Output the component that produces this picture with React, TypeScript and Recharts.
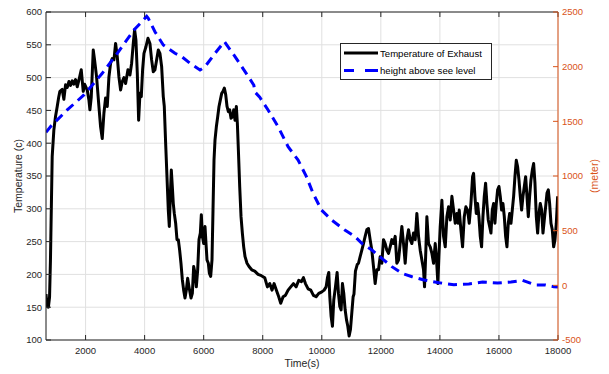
import React from 'react';
import { LineChart, Line, XAxis, YAxis, CartesianGrid, Legend, Label } from 'recharts';

// Exhaust temperature trace: time (s) and temperature (c)
const tempTime = [
  660, 700, 740, 780, 810, 840, 870, 926, 980, 1040, 1090, 1130, 1209, 1265, 1322, 1380, 1435, 1490, 1548, 1600,
  1661, 1718, 1774, 1853, 1921, 1966, 2057, 2113, 2147, 2192, 2230, 2260, 2305, 2373, 2452, 2509, 2565, 2622, 2678, 2735,
  2791, 2848, 2904, 2961, 3017, 3074, 3130, 3187, 3243, 3300, 3356, 3435, 3503, 3560, 3616, 3661, 3706, 3752, 3797, 3842,
  3887, 3932, 3978, 4045, 4113, 4180, 4237, 4293, 4350, 4406, 4463, 4519, 4576, 4632, 4666, 4712, 4757, 4802, 4836, 4870,
  4904, 4938, 4971, 5005, 5051, 5096, 5141, 5186, 5231, 5277, 5322, 5367, 5412, 5457, 5503, 5571, 5616, 5661, 5706, 5751,
  5797, 5842, 5887, 5921, 5955, 6000, 6045, 6079, 6113, 6158, 6192, 6237, 6282, 6316, 6350, 6384, 6429, 6474, 6519, 6565,
  6610, 6655, 6700, 6746, 6791, 6836, 6881, 6926, 6972, 7017, 7062, 7107, 7141, 7175, 7220, 7265, 7310, 7355, 7401, 7468,
  7536, 7627, 7729, 7842, 7955, 8068, 8158, 8237, 8316, 8384, 8463, 8542, 8610, 8689, 8768, 8859, 8949, 9040, 9130, 9220,
  9311, 9379, 9446, 9537, 9627, 9717, 9808, 9898, 9989, 10079, 10147, 10192, 10237, 10271, 10316, 10361, 10406, 10463, 10519, 10565,
  10610, 10655, 10700, 10745, 10791, 10836, 10881, 10926, 10971, 11016, 11062, 11090, 11140, 11200, 11243, 11299, 11356, 11412, 11469, 11525,
  11582, 11638, 11695, 11751, 11808, 11864, 11921, 11977, 12034, 12090, 12147, 12203, 12260, 12316, 12373, 12429, 12486, 12542, 12599, 12655,
  12712, 12768, 12825, 12881, 12938, 12994, 13051, 13107, 13164, 13220, 13277, 13333, 13390, 13446, 13480, 13525, 13559, 13616, 13672, 13729,
  13785, 13842, 13887, 13932, 13966, 14011, 14068, 14124, 14181, 14237, 14294, 14350, 14407, 14463, 14520, 14576, 14620, 14655, 14712, 14768,
  14825, 14881, 14938, 14994, 15051, 15107, 15141, 15186, 15232, 15277, 15322, 15367, 15412, 15458, 15503, 15548, 15593, 15638, 15684, 15729,
  15774, 15819, 15864, 15910, 15955, 16000, 16045, 16090, 16136, 16181, 16226, 16271, 16316, 16362, 16407, 16452, 16497, 16542, 16587, 16633,
  16678, 16723, 16768, 16813, 16859, 16904, 16949, 16994, 17039, 17084, 17130, 17175, 17220, 17265, 17310, 17355, 17401, 17446, 17491, 17536,
  17581, 17627, 17672, 17717, 17762, 17807, 17852, 17898, 17943, 17988,
];
const tempValue = [
  170, 152, 150, 165, 220, 300, 380, 420, 440, 456, 470, 479, 482, 467, 489, 485, 494, 488, 495, 490,
  497, 486, 496, 512, 479, 490, 481, 466, 451, 470, 510, 542, 527, 501, 456, 425, 407, 446, 469, 456,
  501, 522, 529, 527, 552, 532, 501, 481, 494, 500, 491, 512, 504, 522, 552, 573, 557, 507, 435, 476,
  471, 512, 537, 547, 560, 552, 527, 509, 512, 527, 542, 537, 517, 471, 456, 400, 349, 298, 273, 319,
  359, 334, 308, 293, 278, 253, 253, 237, 217, 192, 176, 164, 176, 194, 181, 164, 171, 212, 202, 181,
  207, 253, 263, 291, 258, 247, 273, 247, 222, 217, 202, 197, 222, 298, 374, 405, 425, 440, 456, 466,
  476, 479, 484, 474, 456, 448, 451, 438, 440, 451, 435, 456, 430, 390, 334, 288, 263, 242, 227, 217,
  212, 207, 205, 200, 198, 195, 181, 186, 176, 186, 176, 166, 156, 166, 168, 176, 181, 186, 181, 191,
  189, 195, 186, 178, 176, 168, 166, 171, 173, 176, 181, 195, 203, 166, 136, 121, 161, 181, 203, 171,
  151, 146, 186, 171, 146, 131, 121, 106, 116, 141, 166, 170, 205, 215, 217, 227, 237, 247, 258, 268,
  270, 253, 237, 212, 186, 207, 207, 227, 217, 253, 247, 237, 232, 242, 253, 247, 258, 217, 222, 247,
  273, 247, 217, 253, 268, 253, 247, 263, 253, 293, 258, 237, 222, 207, 181, 237, 288, 247, 242, 232,
  217, 247, 222, 186, 227, 273, 313, 258, 242, 288, 303, 283, 319, 298, 278, 293, 278, 298, 268, 242,
  288, 303, 298, 278, 308, 349, 354, 319, 293, 308, 288, 258, 242, 288, 319, 339, 308, 283, 273, 263,
  298, 308, 278, 308, 329, 334, 319, 298, 308, 288, 258, 242, 278, 293, 278, 298, 319, 349, 374, 364,
  344, 319, 298, 319, 334, 349, 319, 288, 319, 344, 359, 369, 339, 288, 263, 293, 308, 298, 263, 283,
  303, 324, 329, 308, 278, 268, 242, 253, 278, 319,
];

// Height above sea level: time (s) and height (meter)
const heightTime = [
  660, 830, 1379, 1944, 2565, 3074, 3639, 4071, 4124, 4350, 4632, 5028, 5254, 5537, 5876, 6045, 6384, 6700, 7062, 7514,
  7700, 7730, 7900, 8181, 8520, 8859, 9198, 9480, 9706, 9989, 10328, 10780, 11130, 11356, 11695, 12034, 12373, 12712, 13058, 13462,
  13968, 14475, 14981, 15446, 15955, 16407, 16802, 17236, 17574, 17855, 18000,
];
const heightValue = [
  1400, 1457, 1604, 1741, 1939, 2122, 2335, 2460, 2442, 2320, 2198, 2122, 2092, 2031, 1970, 2000, 2122, 2229, 2092, 1909,
  1830, 1770, 1720, 1604, 1451, 1268, 1146, 994, 841, 689, 598, 506, 445, 384, 323, 247, 171, 110, 79, 49,
  24, 6, 12, 30, 21, 30, 46, 3, 3, -12, -15,
];

const timeTicks = [2000, 4000, 6000, 8000, 10000, 12000, 14000, 16000, 18000];
const tempTicks = [100, 150, 200, 250, 300, 350, 400, 450, 500, 550, 600];
const heightTicks = [-500, 0, 500, 1000, 1500, 2000, 2500];
const seriesNames = ['Temperature of Exhaust', 'height above see level'];

const tempData = tempTime.map((t, i) => ({ t, temp: tempValue[i] }));
const heightData = heightTime.map((t, i) => ({ t, height: heightValue[i] }));

const AXIS_GREY = '#262626';
const ORANGE = '#D95319';
const BLUE = '#0000FF';
const FONT = '"Liberation Sans", Arial, Helvetica, sans-serif';

const LegendBox = () => (
  <div
    style={{
      width: 152,
      height: 37,
      boxSizing: 'border-box',
      border: `1px solid ${AXIS_GREY}`,
      background: '#fff',
    }}
  >
    <svg width={150} height={35} style={{ display: 'block' }}>
      <line x1={3} x2={37} y1={9} y2={9} stroke="#000" strokeWidth={3} />
      <line x1={3} x2={37} y1={26.5} y2={26.5} stroke={BLUE} strokeWidth={3} strokeDasharray="10 11 13" />
      <text x={39} y={9} dominantBaseline="central" fontSize={9.6} fill="#000" fontFamily={FONT}>
        {seriesNames[0]}
      </text>
      <text x={39} y={26.5} dominantBaseline="central" fontSize={9.6} fill="#000" fontFamily={FONT}>
        {seriesNames[1]}
      </text>
    </svg>
  </div>
);

const emptyTick = () => <g />;

export default function App() {
  return (
    <div style={{ position: 'absolute', left: 0, top: 0, fontFamily: FONT, background: '#fff' }}>
      <LineChart width={609} height={374} margin={{ top: 11, right: 0, bottom: 0, left: 0 }}>
        <CartesianGrid xAxisId="bottom" yAxisId="left" stroke="#e0e0e0" strokeWidth={1} />
        <XAxis
          xAxisId="bottom"
          dataKey="t"
          type="number"
          domain={[660, 18000]}
          ticks={timeTicks}
          interval={0}
          allowDataOverflow
          height={34}
          tickSize={-5}
          tickMargin={12}
          stroke={AXIS_GREY}
          tick={{ fill: AXIS_GREY, fontSize: 9.5 }}
        >
          <Label value="Time(s)" position="insideBottom" offset={7.5} fill={AXIS_GREY} fontSize={10.5} />
        </XAxis>
        <XAxis
          xAxisId="top"
          orientation="top"
          dataKey="t"
          type="number"
          domain={[660, 18000]}
          ticks={timeTicks}
          interval={0}
          allowDataOverflow
          height={1}
          tickSize={-5}
          stroke={AXIS_GREY}
          tick={emptyTick}
        />
        <YAxis
          yAxisId="left"
          orientation="left"
          type="number"
          domain={[100, 600]}
          ticks={tempTicks}
          interval={0}
          allowDataOverflow
          width={46}
          tickSize={-5}
          tickMargin={9}
          stroke={AXIS_GREY}
          tick={{ fill: AXIS_GREY, fontSize: 9.5 }}
        >
          <Label
            value="Temperature (c)"
            angle={-90}
            position="insideLeft"
            offset={18}
            fill={AXIS_GREY}
            fontSize={10.5}
            style={{ textAnchor: 'middle' }}
          />
        </YAxis>
        <YAxis
          yAxisId="right"
          orientation="right"
          type="number"
          domain={[-500, 2500]}
          ticks={heightTicks}
          interval={0}
          allowDataOverflow
          width={51}
          tickSize={-5}
          tickMargin={9}
          stroke={ORANGE}
          tick={{ fill: ORANGE, fontSize: 9.5 }}
        >
          <Label
            value="(meter)"
            angle={-90}
            position="insideRight"
            offset={15}
            fill={ORANGE}
            fontSize={10.5}
            style={{ textAnchor: 'middle' }}
          />
        </YAxis>
        <Line
          data={tempData}
          dataKey="temp"
          name={seriesNames[0]}
          xAxisId="bottom"
          yAxisId="left"
          type="linear"
          stroke="#000"
          strokeWidth={3}
          strokeLinejoin="round"
          dot={false}
          isAnimationActive={false}
        />
        <Line
          data={heightData}
          dataKey="height"
          name={seriesNames[1]}
          xAxisId="bottom"
          yAxisId="right"
          type="linear"
          stroke={BLUE}
          strokeWidth={3}
          strokeDasharray="9 6"
          dot={false}
          isAnimationActive={false}
        />
        <Legend
          layout="horizontal"
          verticalAlign="middle"
          align="center"
          content={() => <LegendBox />}
          wrapperStyle={{ position: 'absolute', left: 340, top: 43, width: 152, height: 37 }}
        />
      </LineChart>
    </div>
  );
}
